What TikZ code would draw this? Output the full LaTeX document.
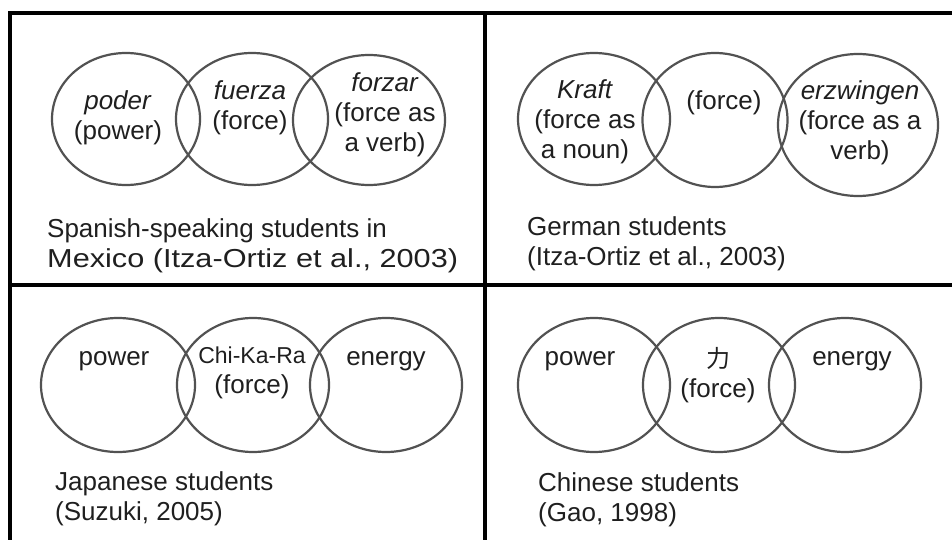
\documentclass[tikz,border=0pt]{standalone}
\usepackage{fontspec}
\usepackage{graphicx}
\setmainfont{Liberation Sans}
\newfontfamily\cjkfont{Noto Sans CJK SC}
\usetikzlibrary{shapes.geometric}
\begin{document}
\begin{tikzpicture}[x=1pt,y=-1pt,
  frame/.style={line width=3.6pt, black, line cap=rect},
  venn/.style={ellipse, draw=black!68, line width=2.2pt, inner sep=0pt},
  lbl/.style={font=\fontsize{26}{30}\selectfont, text=black!88, align=center, anchor=base, inner sep=0pt},
  captxt/.style={lbl, align=left, anchor=base west}]
\useasboundingbox (0,0) rectangle (952,540);
% frame
\draw[frame] (10,545) -- (10,13) -- (955,13);
\draw[frame] (485,13) -- (485,545);
\draw[frame] (10,285) -- (955,285);
% panel 1: Spanish (multi-line labels are placed by their last baseline)
\node[venn, minimum width=148pt, minimum height=132pt] (s1) at (126,119) {};
\node[venn, minimum width=152pt, minimum height=132pt] (s2) at (252,119) {};
\node[venn, minimum width=152pt, minimum height=130pt] (s3) at (369,120) {};
\node[lbl] (s1t) at (118,140) {\textit{poder}\\(power)};
\node[lbl] (s2t) at (250,130) {\textit{fuerza}\\(force)};
\node[lbl] (s3t) at (385,152) {\textit{forzar}\\(force as\\a verb)};
\node[captxt] (scap) at (47,267) {Spanish-speaking students in\\\scalebox{1.18}[1]{Mexico (Itza-Ortiz et al., 2003)}};
% panel 2: German
\node[venn, minimum width=152pt, minimum height=132pt] (g1) at (594,119) {};
\node[venn, minimum width=145pt, minimum height=134pt] (g2) at (715,120) {};
\node[venn, minimum width=160pt, minimum height=142pt] (g3) at (858,125) {};
\node[lbl] (g1t) at (585,159) {\textit{Kraft}\\(force as\\a noun)};
\node[lbl] (g2t) at (724,110) {(force)};
\node[lbl] (g3t) at (860,160) {\textit{erzwingen}\\(force as a\\verb)};
\node[captxt] (gcap) at (527,265) {German students\\(Itza-Ortiz et al., 2003)};
% panel 3: Japanese
\node[venn, minimum width=154pt, minimum height=134pt] (j1) at (118,385) {};
\node[venn, minimum width=152pt, minimum height=134pt] (j2) at (253,385) {};
\node[venn, minimum width=152pt, minimum height=134pt] (j3) at (386,385) {};
\node[lbl] (j1t) at (114,365) {power};
\node[lbl, font=\fontsize{23}{28}\selectfont] (j2t) at (252,363) {Chi-Ka-Ra};
\node[lbl] (j2f) at (252,393) {(force)};
\node[lbl] (j3t) at (386,365) {energy};
\node[captxt] (jcap) at (55,520) {Japanese students\\(Suzuki, 2005)};
% panel 4: Chinese
\node[venn, minimum width=152pt, minimum height=134pt] (c1) at (594,385) {};
\node[venn, minimum width=152pt, minimum height=134pt] (c2) at (719,385) {};
\node[venn, minimum width=152pt, minimum height=134pt] (c3) at (845,385) {};
\node[lbl] (c1t) at (580,365) {power};
\node[lbl, font=\fontsize{24}{28}\cjkfont] (c2t) at (718,367) {力};
\node[lbl] (c2f) at (718,397) {(force)};
\node[lbl] (c3t) at (852,365) {energy};
\node[captxt] (ccap) at (538,521) {Chinese students\\(Gao, 1998)};
\end{tikzpicture}
\end{document}
